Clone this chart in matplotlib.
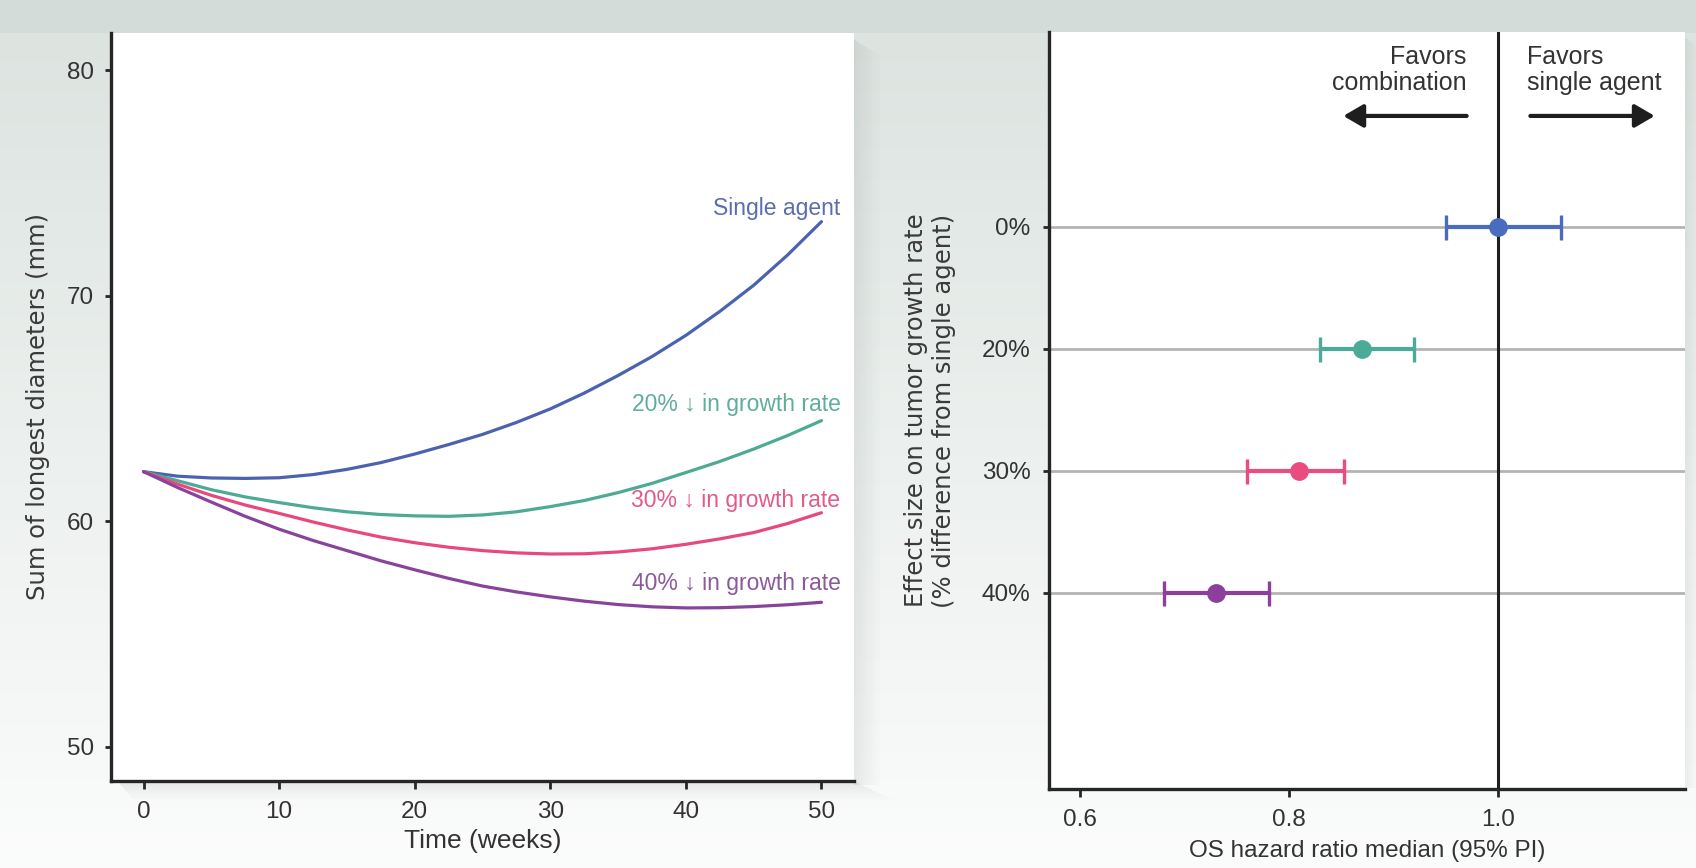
import numpy as np
import matplotlib
matplotlib.use("Agg")
import matplotlib.pyplot as plt

# ---------------- data ----------------
weeks = [0, 2.5, 5, 7.5, 10, 12.5, 15, 17.5, 20, 22.5, 25, 27.5, 30, 32.5, 35, 37.5, 40,
         42.5, 45, 47.5, 50]
single_agent = [62.2, 62.0, 61.92, 61.9, 61.93, 62.07, 62.3, 62.6, 62.98, 63.4, 63.85, 64.38,
                64.98, 65.68, 66.46, 67.3, 68.24, 69.3, 70.46, 71.8, 73.28]
reduce_20 = [62.2, 61.8, 61.4, 61.08, 60.83, 60.6, 60.42, 60.3, 60.24, 60.22, 60.28, 60.42,
             60.65, 60.92, 61.27, 61.68, 62.16, 62.65, 63.2, 63.8, 64.46]
reduce_30 = [62.2, 61.65, 61.15, 60.72, 60.35, 59.97, 59.62, 59.3, 59.05, 58.85, 58.7, 58.6,
             58.55, 58.56, 58.64, 58.78, 58.98, 59.22, 59.5, 59.9, 60.38]
reduce_40 = [62.2, 61.5, 60.85, 60.22, 59.65, 59.15, 58.7, 58.25, 57.85, 57.47, 57.13, 56.87,
             56.65, 56.46, 56.31, 56.21, 56.16, 56.17, 56.22, 56.3, 56.41]
curve_labels = ["Single agent", "20% \u2193 in growth rate",
                "30% \u2193 in growth rate", "40% \u2193 in growth rate"]
curve_label_y = [73.87, 65.18, 60.9, 57.25]

effect_labels = ["0%", "20%", "30%", "40%"]
hr_median = [1.0, 0.87, 0.81, 0.73]
hr_low = [0.95, 0.83, 0.76, 0.68]
hr_high = [1.06, 0.92, 0.853, 0.781]

left_yticks = [50, 60, 70, 80]
left_xticks = [0, 10, 20, 30, 40, 50]
right_xticks = [0.6, 0.8, 1.0]
right_xticklabels = ["0.6", "0.8", "1.0"]

# ---------------- style ----------------
line_colors = ["#4b62b0", "#4caa95", "#e8497b", "#89439b"]
label_colors = ["#5b6cb0", "#5fae9d", "#e45a86", "#8a5a9c"]
dot_colors = ["#4a6cc0", "#4bab99", "#ea4c80", "#8e3e9b"]
TXT = "#333333"
AX = "#262626"
SANS = ["Liberation Sans", "DejaVu Sans"]
WIDE = ["DejaVu Sans"]

W, H = 1696, 868
fig = plt.figure(figsize=(W / 100, H / 100), dpi=100)

# background with gradient + top band + shadows (pixel coordinates)
bg = fig.add_axes([0, 0, 1, 1], zorder=-10)
bg.set_xlim(0, W)
bg.set_ylim(H, 0)
bg.axis("off")
top_c = np.array([0.86, 0.89, 0.875])
bot_c = np.array([0.985, 0.988, 0.987])
tt = np.linspace(0, 1, 200)[:, None]
grad = top_c * (1 - tt) + bot_c * tt
bg.imshow(grad[:, None, :], extent=[0, W, H, 0], aspect="auto", zorder=0)
bg.add_patch(plt.Rectangle((0, 0), W, 33, color="#d3dcd8", zorder=1, lw=0))
# soft shadows around panels
for i in range(16):
    a = 0.11 * (1 - i / 16)
    bg.add_patch(plt.Rectangle((854 + i * 1.6, 40 + i), 1.6, 745 - i, color="#5a6260",
                               alpha=a, lw=0, zorder=2))
    bg.add_patch(plt.Rectangle((118 + i, 781 + i * 1.2), 736 + i * 1.6, 1.2, color="#5a6260",
                               alpha=a, lw=0, zorder=2))
for i in range(8):
    a = 0.08 * (1 - i / 8)
    bg.add_patch(plt.Rectangle((1685 + i * 1.4, 38 + i), 1.4, 750 - i, color="#5a6260",
                               alpha=a, lw=0, zorder=2))

# ---------------- left panel ----------------
ax1 = fig.add_axes([111 / W, 1 - 781 / H, (854 - 111) / W, (781 - 33) / H])
ax1.set_facecolor("white")
series = [single_agent, reduce_20, reduce_30, reduce_40]
for vals, c in zip(series, line_colors):
    ax1.plot(weeks, vals, color=c, lw=2.3, solid_capstyle="round", solid_joinstyle="round",
             zorder=3)
for lab, ly, c in zip(curve_labels, curve_label_y, label_colors):
    ax1.text(51.4, ly, lab, ha="right", va="center", fontsize=16.5, color=c, family=SANS)

ax1.set_xlim(-2.4, 52.4)
ax1.set_ylim(48.49, 81.64)
ax1.set_xticks(left_xticks)
ax1.set_yticks(left_yticks)
for s in ["top", "right"]:
    ax1.spines[s].set_visible(False)
for s in ["left", "bottom"]:
    ax1.spines[s].set_linewidth(2.4)
    ax1.spines[s].set_color(AX)
ax1.tick_params(axis="y", length=4.3, width=2.0, pad=8, labelsize=17.5, colors=AX, labelcolor=TXT)
ax1.tick_params(axis="x", length=5.5, width=2.0, pad=9, labelsize=17.5, colors=AX, labelcolor=TXT)
for t in ax1.get_xticklabels() + ax1.get_yticklabels():
    t.set_family(SANS)
ax1.set_xlabel("Time (weeks)", fontsize=19, color=TXT, family=SANS, va="center")
ax1.xaxis.set_label_coords(0.5, (781 - 841) / (781 - 33))
ax1.set_ylabel("Sum of longest diameters (mm)", fontsize=17.5, color="#3a3a3a", family=WIDE,
               va="center")
ax1.yaxis.set_label_coords((38 - 111) / (854 - 111), 0.5)

# ---------------- right panel ----------------
ax2 = fig.add_axes([1049 / W, 1 - 789 / H, (1685 - 1049) / W, (789 - 32) / H])
ax2.set_facecolor("white")
ypos = list(range(len(effect_labels)))
for y in ypos:
    ax2.axhline(y, color="#b4b4b4", lw=2.0, zorder=1)
ax2.axvline(1.0, color="#1e1e1e", lw=2.2, zorder=2)
for y, m, lo, hi, c in zip(ypos, hr_median, hr_low, hr_high, dot_colors):
    ax2.errorbar([m], [y], xerr=[[m - lo], [hi - m]], fmt="o", color=c, ms=12.5,
                 elinewidth=3.0, capsize=9, capthick=2.4, zorder=4)

ax2.set_xlim(0.5703, 1.179)
ax2.set_ylim(4.607, -1.598)
ax2.set_xticks(right_xticks)
ax2.set_xticklabels(right_xticklabels)
ax2.set_yticks(ypos)
ax2.set_yticklabels(effect_labels)
for s in ["top", "right"]:
    ax2.spines[s].set_visible(False)
for s in ["left", "bottom"]:
    ax2.spines[s].set_linewidth(2.4)
    ax2.spines[s].set_color(AX)
ax2.tick_params(axis="y", length=4.3, width=2.0, pad=9, labelsize=17.5, colors=AX, labelcolor=TXT)
ax2.tick_params(axis="x", length=5.5, width=2.0, pad=9, labelsize=17.5, colors=AX, labelcolor=TXT)
for t in ax2.get_xticklabels() + ax2.get_yticklabels():
    t.set_family(SANS)
ax2.set_xlabel("OS hazard ratio median (95% PI)", fontsize=17.5, color=TXT, family=SANS,
               va="center")
ax2.xaxis.set_label_coords(0.5, (789 - 851) / (789 - 32))
ax2.set_ylabel("Effect size on tumor growth rate\n(% difference from single agent)",
               fontsize=17.5, color="#3a3a3a", family=WIDE, va="center", linespacing=1.2)
ax2.yaxis.set_label_coords((930 - 1049) / (1685 - 1049), 0.5)

# favors annotations
ax2.text(0.970, -1.287, "Favors\ncombination", ha="right", va="center", fontsize=18,
         color=TXT, family=SANS, linespacing=1.15)
ax2.text(1.028, -1.287, "Favors\nsingle agent", ha="left", va="center", fontsize=18,
         color=TXT, family=SANS, linespacing=1.15)
arrow_kw = dict(arrowstyle="-|>,head_length=0.6,head_width=0.35", lw=3, color="#1e1e1e",
                shrinkA=0, shrinkB=0, mutation_scale=20)
ax2.annotate("", xy=(0.852, -0.91), xytext=(0.970, -0.91), arrowprops=arrow_kw)
ax2.annotate("", xy=(1.150, -0.91), xytext=(1.031, -0.91), arrowprops=arrow_kw)

fig.savefig("out.png", dpi=100, facecolor=fig.get_facecolor())
